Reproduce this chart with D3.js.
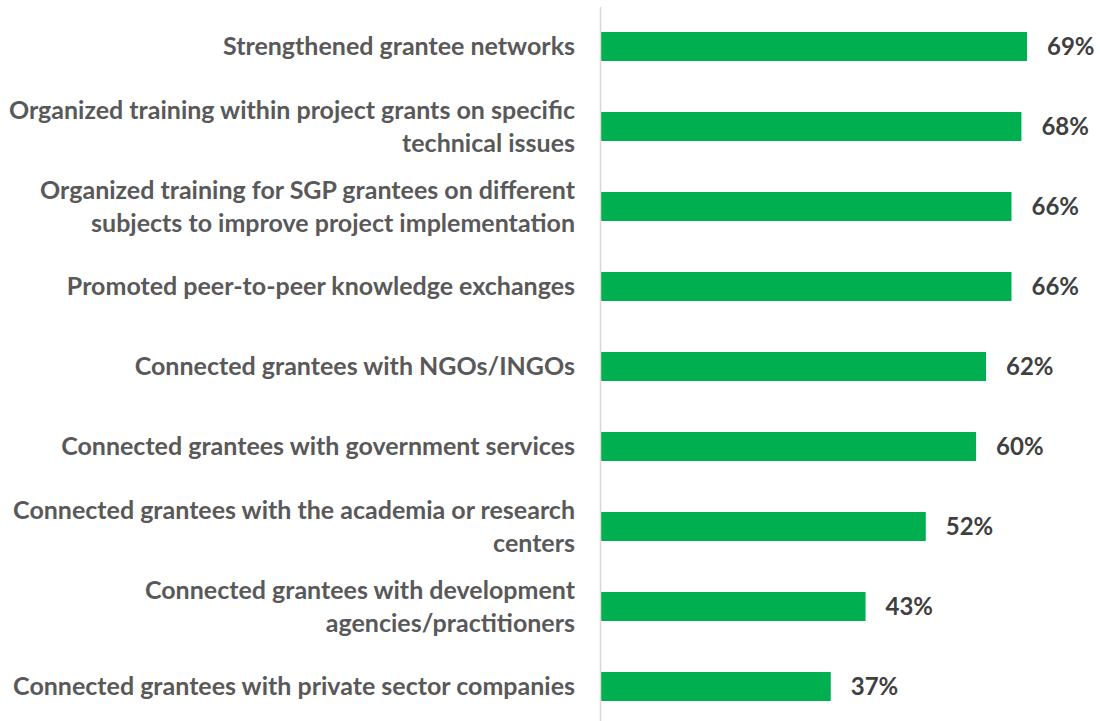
<!DOCTYPE html>
<html>
<head>
<meta charset="utf-8">
<script src="https://cdn.jsdelivr.net/npm/d3@7"></script>
<style>
  html, body { margin: 0; padding: 0; background: #ffffff; }
  svg { display: block; }
</style>
</head>
<body>
<svg id="chart" width="1100" height="721"></svg>
<script>
const categories = [
  "Strengthened grantee networks",
  "Organized training within project grants on specific\ntechnical issues",
  "Organized training for SGP grantees on different\nsubjects to improve project implementation",
  "Promoted peer-to-peer knowledge exchanges",
  "Connected grantees with NGOs/INGOs",
  "Connected grantees with government services",
  "Connected grantees with the academia or research\ncenters",
  "Connected grantees with development\nagencies/practitioners",
  "Connected grantees with private sector companies"
];
const values = [68.6, 67.7, 66.1, 66.1, 62.0, 60.4, 52.3, 42.6, 37.0];
const valueLabels = ["69%", "68%", "66%", "66%", "62%", "60%", "52%", "43%", "37%"];

const svg = d3.select("#chart");
const fontFamily = "Lato, 'Open Sans', sans-serif";

const x = d3.scaleLinear().domain([0, 100]).range([601, 1222]);
const y = d3.scaleBand().domain(categories).range([6.5, 726.5])
  .paddingInner(0.6375).paddingOuter(0.31875);

// bars
svg.append("g").selectAll("rect").data(categories).join("rect")
  .attr("x", x(0))
  .attr("y", d => y(d))
  .attr("width", (d, i) => x(values[i]) - x(0))
  .attr("height", y.bandwidth())
  .attr("fill", "#00b050");

// vertical axis line
const axis = svg.append("g")
  .attr("transform", `translate(${x(0) - 1},0)`)
  .call(d3.axisLeft(y).tickSize(0).tickFormat(""));
axis.select(".domain").attr("stroke", "#d9d9d9").attr("stroke-width", 1.5);

// category labels
const lineH = 33;
const labels = svg.append("g").selectAll("text").data(categories).join("text")
  .attr("text-anchor", "end")
  .attr("font-family", fontFamily)
  .attr("font-weight", "bold")
  .attr("font-size", 25)
  .attr("fill", "#595959");
labels.each(function(d) {
  const lines = d.split("\n");
  const cy = y(d) + y.bandwidth() / 2;
  const t = d3.select(this);
  lines.forEach((ln, k) => {
    t.append("tspan")
      .attr("x", 575)
      .attr("y", cy + (k - (lines.length - 1) / 2) * lineH)
      .attr("dy", "0.35em")
      .text(ln);
  });
});

// value labels
svg.append("g").selectAll("text").data(categories).join("text")
  .attr("x", (d, i) => x(values[i]) + 20)
  .attr("y", d => y(d) + y.bandwidth() / 2)
  .attr("dy", "0.35em")
  .attr("font-family", fontFamily)
  .attr("font-weight", "bold")
  .attr("font-size", 24)
  .attr("fill", "#404040")
  .text((d, i) => valueLabels[i]);
</script>
</body>
</html>
